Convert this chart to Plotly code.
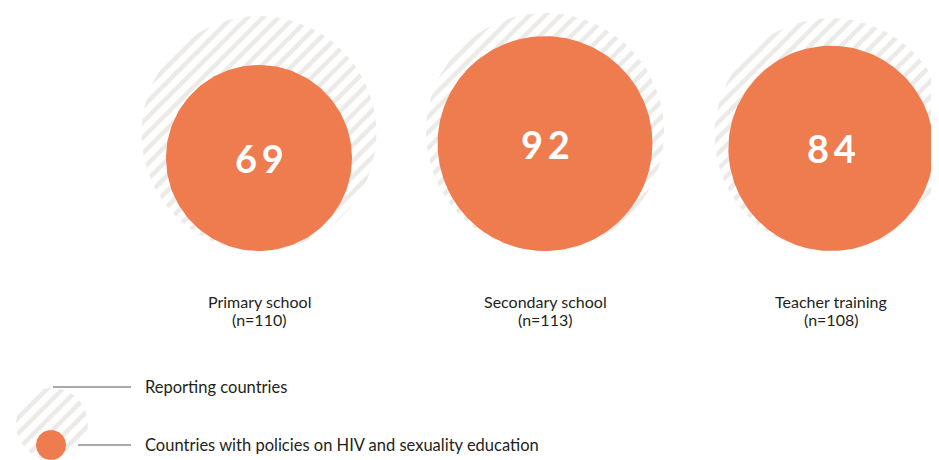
import numpy as np
import plotly.graph_objects as go

# ---- data ----
categories = ["Primary school", "Secondary school", "Teacher training"]
reporting_n = [110, 113, 108]          # reporting countries (grey hatched circles)
policy_n = [69, 92, 84]                # countries with policies (orange circles)
legend_labels = ["Reporting countries", "Countries with policies on HIV and sexuality education"]

# ---- styling / layout ----
W, H = 939, 460
OFF = 8                       # page body margin compensation
ORANGE = "#EF7C4F"
STRIPE = "#D8D5D0"
TEXT = "#231F20"
K = 11.2                      # radius units per sqrt(value)
BASE_Y = 251                  # common bottom of circles
X0, DX = 259, 286             # centre of first group, spacing

def circle(cx, cy, r, n=180):
    t = np.linspace(0, 2 * np.pi, n)
    return cx + r * np.cos(t), cy + r * np.sin(t)

def hatched(xs, ys):
    return go.Scatter(x=xs, y=ys, mode="lines", fill="toself",
                      line=dict(width=0, color="rgba(0,0,0,0)"), fillcolor="white",
                      fillpattern=dict(shape="/", fgcolor=STRIPE, bgcolor="white",
                                       size=11, solidity=0.42),
                      hoverinfo="skip", showlegend=False)

def solid(xs, ys):
    return go.Scatter(x=xs, y=ys, mode="lines", fill="toself",
                      line=dict(width=0, color=ORANGE), fillcolor=ORANGE,
                      hoverinfo="skip", showlegend=False)

fig = go.Figure()

for i, (cat, rep, pol) in enumerate(zip(categories, reporting_n, policy_n)):
    cx = X0 + DX * i
    r_rep = K * np.sqrt(rep)
    r_pol = K * np.sqrt(pol)
    fig.add_trace(hatched(*circle(cx, BASE_Y - r_rep, r_rep)))
    cy = BASE_Y - r_pol
    fig.add_trace(solid(*circle(cx, cy, r_pol)))
    fig.add_annotation(x=cx, y=cy, text="\u2009".join(str(pol)), showarrow=False,
                       font=dict(family="Lato", size=38, color="white", weight="bold"),
                       xanchor="center", yanchor="middle")
    for y_txt, txt in [(301, cat), (319, f"(n={rep})")]:
        fig.add_annotation(x=cx, y=y_txt, text=txt, showarrow=False,
                           font=dict(family="Lato", size=16, color=TEXT),
                           xanchor="center", yanchor="middle", align="center")

# ---- legend ----
LEG_BASE = 460
lx_rep, lr_rep = 52, 36
lx_pol, lr_pol = 51, 15
fig.add_trace(hatched(*circle(lx_rep, LEG_BASE - lr_rep, lr_rep)))
fig.add_trace(solid(*circle(lx_pol, LEG_BASE - lr_pol, lr_pol)))
for (x_start, y_line), lab in zip([(53, 387), (78, 445)], legend_labels):
    fig.add_shape(type="line", x0=x_start, x1=131, y0=y_line, y1=y_line,
                  line=dict(color="#555555", width=1))
    fig.add_annotation(x=143, y=y_line, text=lab, showarrow=False, xanchor="left",
                       yanchor="middle", font=dict(family="Lato", size=16.5, color=TEXT))

fig.update_layout(width=W - OFF, height=H - OFF, margin=dict(l=0, r=0, t=0, b=0),
                  paper_bgcolor="white", plot_bgcolor="white",
                  xaxis=dict(range=[OFF, W], visible=False, fixedrange=True),
                  yaxis=dict(range=[H, OFF], visible=False, fixedrange=True),
                  showlegend=False)
fig.write_html("out.html")
